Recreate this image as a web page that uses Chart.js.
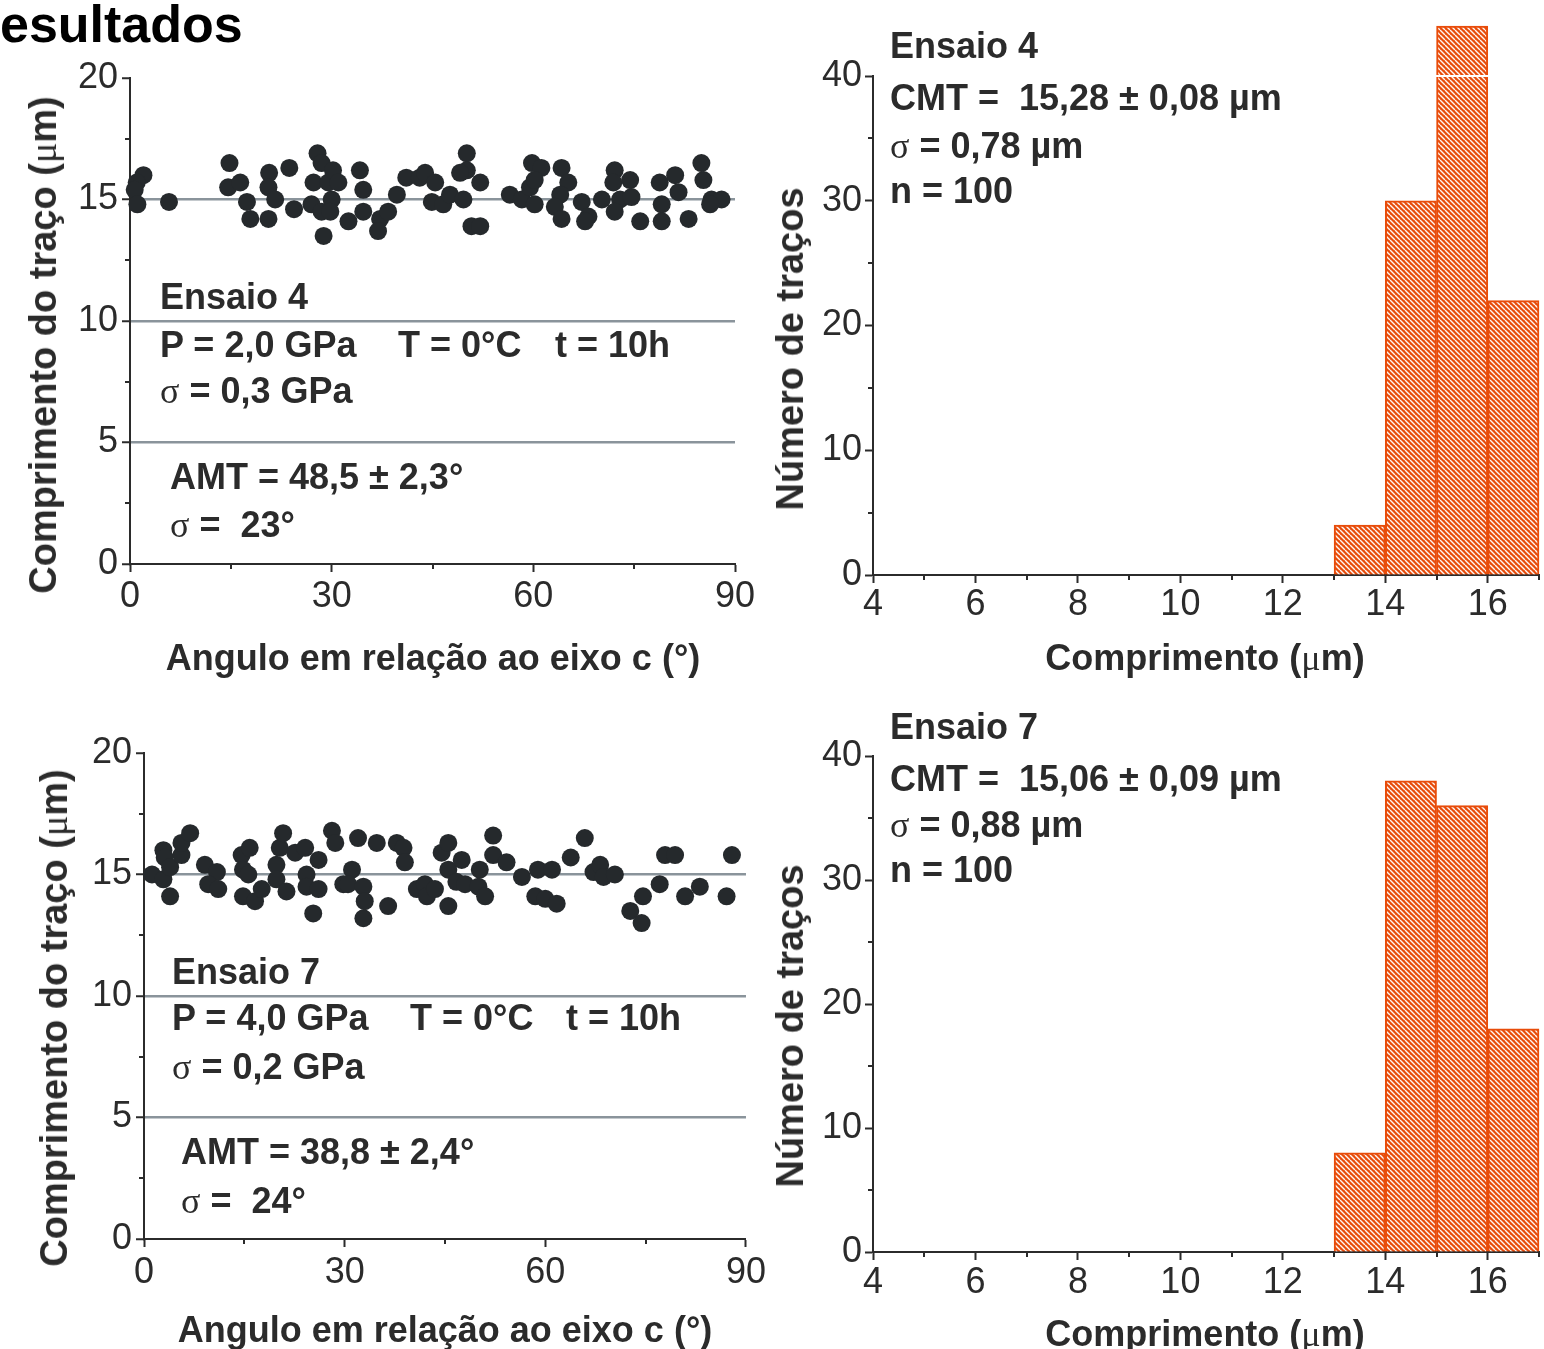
<!DOCTYPE html>
<html><head><meta charset="utf-8">
<script src="https://cdn.jsdelivr.net/npm/chart.js@4.4.1/dist/chart.umd.min.js"></script>
<style>
html,body{margin:0;padding:0;background:#fff;}
body{width:1544px;height:1349px;position:relative;overflow:hidden;font-family:"Liberation Sans",Arial,sans-serif;}
canvas{position:absolute;}
.t{position:absolute;white-space:pre;font-weight:bold;font-size:36px;line-height:36px;color:#2b2b2b;}
.s{font-family:"Liberation Serif","DejaVu Serif",serif;font-weight:normal;}
.rot{position:absolute;white-space:pre;font-weight:bold;font-size:38px;line-height:38px;color:#2b2b2b;transform:translate(-50%,-50%) rotate(-90deg);}
.h{position:absolute;white-space:pre;font-weight:bold;font-size:52px;line-height:52px;color:#000;}
</style></head><body>
<div class="h" style="left:0;top:-2px;">esultados</div>

<canvas id="cA" width="770" height="700" style="left:0;top:0;"></canvas>
<canvas id="cB" width="784" height="700" style="left:760px;top:0;"></canvas>
<canvas id="cC" width="770" height="659" style="left:0;top:690px;"></canvas>
<canvas id="cD" width="784" height="659" style="left:760px;top:690px;"></canvas>

<!-- top-left annotations -->
<div class="t" style="left:160px;top:279px;">Ensaio 4</div>
<div class="t" style="left:160px;top:327px;">P = 2,0 GPa</div>
<div class="t" style="left:398px;top:327px;">T = 0°C</div>
<div class="t" style="left:555px;top:327px;">t = 10h</div>
<div class="t" style="left:160px;top:373px;"><span class="s">σ</span> = 0,3 GPa</div>
<div class="t" style="left:170px;top:459px;">AMT = 48,5 ± 2,3°</div>
<div class="t" style="left:170px;top:507px;"><span class="s">σ</span> =  23°</div>
<div class="t" style="left:433px;top:640px;transform:translateX(-50%);">Angulo em relação ao eixo c (°)</div>
<div class="rot" style="left:43px;top:345px;">Comprimento do traço (<span class="s">μ</span>m)</div>

<!-- top-right annotations -->
<div class="t" style="left:890px;top:28px;">Ensaio 4</div>
<div class="t" style="left:890px;top:80px;">CMT =  15,28 ± 0,08 µm</div>
<div class="t" style="left:890px;top:128px;"><span class="s">σ</span> = 0,78 µm</div>
<div class="t" style="left:890px;top:173px;">n = 100</div>
<div class="t" style="left:1205px;top:640px;transform:translateX(-50%);">Comprimento (<span class="s">μ</span>m)</div>
<div class="rot" style="left:790px;top:349px;">Número de traços</div>

<!-- bottom-left annotations -->
<div class="t" style="left:172px;top:954px;">Ensaio 7</div>
<div class="t" style="left:172px;top:1000px;">P = 4,0 GPa</div>
<div class="t" style="left:410px;top:1000px;">T = 0°C</div>
<div class="t" style="left:566px;top:1000px;">t = 10h</div>
<div class="t" style="left:172px;top:1049px;"><span class="s">σ</span> = 0,2 GPa</div>
<div class="t" style="left:181px;top:1134px;">AMT = 38,8 ± 2,4°</div>
<div class="t" style="left:181px;top:1183px;"><span class="s">σ</span> =  24°</div>
<div class="t" style="left:445px;top:1312px;transform:translateX(-50%);">Angulo em relação ao eixo c (°)</div>
<div class="rot" style="left:54px;top:1018px;">Comprimento do traço (<span class="s">μ</span>m)</div>

<!-- bottom-right annotations -->
<div class="t" style="left:890px;top:709px;">Ensaio 7</div>
<div class="t" style="left:890px;top:761px;">CMT =  15,06 ± 0,09 µm</div>
<div class="t" style="left:890px;top:807px;"><span class="s">σ</span> = 0,88 µm</div>
<div class="t" style="left:890px;top:852px;">n = 100</div>
<div class="t" style="left:1205px;top:1316px;transform:translateX(-50%);">Comprimento (<span class="s">μ</span>m)</div>
<div class="rot" style="left:790px;top:1026px;">Número de traços</div>

<script>
// ---------- data ----------
const ensaio4Angles = [2.0,1.0,0.7,1.1,5.8,14.8,14.6,16.4,17.4,17.9,20.6,20.7,20.6,21.6,23.7,24.4,27.3,27.0,27.9,28.5,28.5,28.8,29.5,30.2,31.0,30.0,29.8,34.2,34.7,34.7,32.5,37.2,38.4,36.9,39.7,41.1,43.1,43.9,45.4,44.9,46.6,47.6,49.6,50.1,50.1,49.1,52.1,50.8,52.1,56.5,58.3,59.5,59.8,61.2,60.2,60.2,64.2,65.2,64.0,63.2,64.2,67.2,68.2,67.7,70.2,72.1,71.9,74.4,72.9,74.6,72.1,75.9,78.8,81.1,81.6,79.1,79.1,83.1,85.0,85.3,86.5,88.0,86.3];
const ensaio4Lengths = [16.0,15.7,15.4,14.8,14.9,16.5,15.5,15.7,14.9,14.2,14.2,16.1,15.5,15.0,16.3,14.6,15.7,14.8,16.9,16.5,14.5,13.5,15.7,16.2,15.7,15.0,14.5,16.2,15.4,14.5,14.1,14.2,14.5,13.7,15.2,15.9,15.9,16.1,15.7,14.9,14.8,15.2,15.0,16.9,16.2,16.1,15.7,13.9,13.9,15.2,15.0,15.5,16.5,16.3,15.8,14.8,16.3,15.7,15.2,14.7,14.2,14.9,14.3,14.1,15.0,16.2,15.7,15.8,15.0,15.1,14.5,14.1,15.7,16.0,15.3,14.8,14.1,14.2,16.5,15.8,15.0,15.0,14.8];
const ensaio7Angles = [1.2,2.9,3.9,2.9,3.1,3.9,5.6,5.6,6.9,9.1,10.9,9.6,11.1,14.6,15.8,14.8,15.6,14.8,16.6,17.6,19.8,20.3,20.8,22.6,24.1,19.8,21.3,24.3,26.1,24.3,26.1,25.3,28.1,28.6,29.8,32.0,34.8,37.8,38.8,39.0,31.1,30.5,32.8,33.0,32.8,36.5,40.8,42.0,42.3,43.5,44.5,45.5,45.5,45.5,46.7,47.5,48.0,50.0,50.2,51.0,52.2,52.2,54.2,56.5,58.9,58.5,60.0,61.0,61.7,63.8,65.9,67.2,68.2,68.7,70.4,72.7,74.4,74.6,77.1,77.9,79.4,80.9,83.1,87.1,87.9];
const ensaio7Lengths = [15.0,14.8,14.1,16.0,15.7,15.3,15.8,16.3,16.7,15.4,15.1,14.6,14.4,15.8,16.1,15.2,15.0,14.1,13.9,14.4,15.4,16.1,16.7,15.9,16.1,14.8,14.3,15.0,15.6,14.5,14.4,13.4,16.8,16.3,14.6,16.5,16.3,16.3,16.1,15.5,15.2,14.6,14.5,13.9,13.2,13.7,14.4,14.6,14.1,14.4,15.9,16.3,15.2,13.7,14.7,15.6,14.6,14.5,15.2,14.1,16.6,15.8,15.5,14.9,15.2,14.1,14.0,15.2,13.8,15.7,16.5,15.1,15.4,14.9,15.0,13.5,13.0,14.1,14.6,15.8,15.8,14.1,14.5,14.1,15.8];

const histBinCenters = [13.5, 14.5, 15.5, 16.5];
const hist4Counts = [4, 30, 44, 22];
const hist7Counts = [8, 38, 36, 18];

const angleTicks = [0, 30, 60, 90];
const angleMinorTicks = [15, 45, 75];
const lengthTicks = [0, 5, 10, 15, 20];
const lengthMinorTicks = [2.5, 7.5, 12.5, 17.5];
const lengthGridLines = [5, 10, 15];
const histXTicks = [4, 6, 8, 10, 12, 14, 16];
const histXMinorTicks = [5, 7, 9, 11, 13, 15, 17];
const countTicks = [0, 10, 20, 30, 40];
const countMinorTicks = [5, 15, 25, 35];

// ---------- styles ----------
const INK = '#2b2b2b';
const GRID = '#8a949b';
const DOT = '#25292c';
const ORANGE = '#e84c0a';
const tickFont = {family: '"Liberation Sans", Arial, sans-serif', size: 36};

const minorTicks = {
  id: 'minorTicks',
  afterDraw(chart, args, opts) {
    const ctx = chart.ctx, a = chart.chartArea;
    ctx.save();
    ctx.strokeStyle = INK; ctx.lineWidth = 2;
    (opts.x || []).forEach(v => {
      const p = Math.round(chart.scales.x.getPixelForValue(v));
      ctx.beginPath(); ctx.moveTo(p, a.bottom); ctx.lineTo(p, a.bottom + 5); ctx.stroke();
    });
    (opts.y || []).forEach(v => {
      const p = Math.round(chart.scales.y.getPixelForValue(v));
      ctx.beginPath(); ctx.moveTo(a.left, p); ctx.lineTo(a.left - 5, p); ctx.stroke();
    });
    ctx.restore();
  },
  afterDatasetsDraw(chart, args, opts) {
    if (opts.whiteAt == null) return;
    const ctx = chart.ctx, a = chart.chartArea;
    const p = chart.scales.y.getPixelForValue(opts.whiteAt);
    ctx.save(); ctx.strokeStyle = '#fff'; ctx.lineWidth = 2;
    ctx.beginPath(); ctx.moveTo(a.left + 3, p); ctx.lineTo(a.right, p); ctx.stroke();
    ctx.restore();
  }
};

function setTicks(arr) { return s => { s.ticks = arr.map(v => ({value: v})); }; }

function scatterChart(id, xs, ys, g) {
  const data = xs.map((x, i) => ({x: x, y: ys[i]}));
  return new Chart(document.getElementById(id), {
    type: 'scatter',
    data: {datasets: [{data: data, pointRadius: 9, pointHoverRadius: 9, backgroundColor: DOT, borderWidth: 0, clip: false}]},
    options: {
      responsive: false, animation: false, events: [],
      layout: {padding: {left: 0, top: g.top, right: g.right, bottom: 0}},
      scales: {
        x: {
          type: 'linear', min: 0, max: 90,
          afterBuildTicks: setTicks(angleTicks),
          afterFit: s => { s.height = g.xh; },
          ticks: {font: tickFont, color: INK, padding: g.xpad, maxRotation: 0, autoSkip: false},
          grid: {drawOnChartArea: false, tickLength: 8, tickWidth: 2, tickColor: INK},
          border: {color: INK, width: 2}
        },
        y: {
          type: 'linear', min: 0, max: 20,
          afterBuildTicks: setTicks(lengthTicks),
          afterFit: s => { s.width = g.yw; },
          ticks: {font: tickFont, color: INK, padding: 4, autoSkip: false},
          grid: {
            color: c => (c.tick && lengthGridLines.includes(c.tick.value)) ? GRID : 'rgba(0,0,0,0)',
            lineWidth: 2.5, tickLength: 8, tickWidth: 2, tickColor: INK
          },
          border: {color: INK, width: 2}
        }
      },
      plugins: {legend: {display: false}, tooltip: {enabled: false},
        minorTicks: {x: angleMinorTicks, y: lengthMinorTicks}}
    },
    plugins: [minorTicks]
  });
}

function makeHatch(canvas) {
  const c = document.createElement('canvas');
  const n = 5; c.width = n; c.height = n;
  const g = c.getContext('2d');
  g.fillStyle = ORANGE; g.fillRect(0, 0, n, n);
  g.strokeStyle = 'rgba(255,255,255,0.95)'; g.lineWidth = 1.4;
  [-n, 0, n].forEach(o => { g.beginPath(); g.moveTo(o, 0); g.lineTo(o + n, n); g.stroke(); });
  return canvas.getContext('2d').createPattern(c, 'repeat');
}

function histChart(id, counts, g) {
  const cv = document.getElementById(id);
  const hatch = makeHatch(cv);
  return new Chart(cv, {
    type: 'bar',
    data: {datasets: [{
      data: histBinCenters.map((x, i) => ({x: x, y: counts[i]})),
      backgroundColor: hatch, borderColor: ORANGE, borderWidth: 2,
      barPercentage: 1, categoryPercentage: 1, clip: false
    }]},
    options: {
      responsive: false, animation: false, events: [],
      layout: {padding: {left: 0, top: g.top, right: g.right, bottom: 0}},
      scales: {
        x: {
          type: 'linear', min: 4, max: 17, offset: false,
          afterBuildTicks: setTicks(histXTicks),
          afterFit: s => { s.height = g.xh; },
          ticks: {font: tickFont, color: INK, padding: g.xpad, maxRotation: 0, autoSkip: false},
          grid: {offset: false, drawOnChartArea: false, tickLength: 8, tickWidth: 2, tickColor: INK},
          border: {color: INK, width: 2}
        },
        y: {
          type: 'linear', min: 0, max: 40,
          afterBuildTicks: setTicks(countTicks),
          afterFit: s => { s.width = g.yw; },
          ticks: {font: tickFont, color: INK, padding: 3, autoSkip: false},
          grid: {drawOnChartArea: false, tickLength: 8, tickWidth: 2, tickColor: INK},
          border: {color: INK, width: 2}
        }
      },
      plugins: {legend: {display: false}, tooltip: {enabled: false},
        minorTicks: {x: histXMinorTicks, y: countMinorTicks, whiteAt: g.whiteAt}}
    },
    plugins: [minorTicks]
  });
}

scatterChart('cA', ensaio4Angles, ensaio4Lengths, {top: 78, right: 35, yw: 130, xh: 136, xpad: 3});
scatterChart('cC', ensaio7Angles, ensaio7Lengths, {top: 63, right: 24, yw: 144, xh: 110, xpad: 4});
histChart('cB', hist4Counts, {top: 76, right: 5, yw: 113, xh: 125, xpad: 0, whiteAt: 40});
histChart('cD', hist7Counts, {top: 66, right: 5, yw: 113, xh: 97, xpad: 1, whiteAt: null});
</script>
</body></html>
